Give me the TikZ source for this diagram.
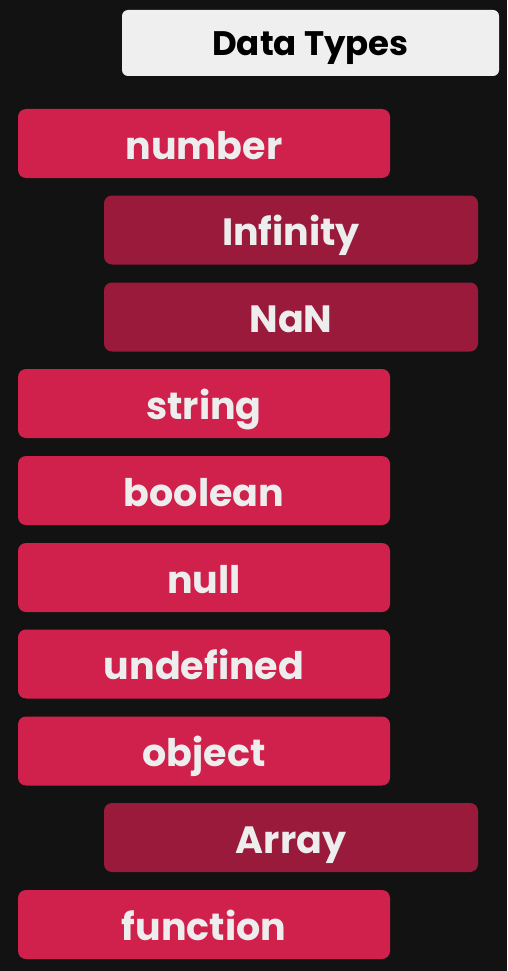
\documentclass[tikz,border=0pt]{standalone}
\usepackage{fontspec}
\setmainfont{Poppins}
\usepackage{tikz}

\definecolor{bgdark}{HTML}{121212}
\definecolor{typered}{HTML}{D0204C}
\definecolor{subred}{HTML}{991A3B}
\definecolor{titlegray}{HTML}{EFEFEF}
\definecolor{labelwhite}{HTML}{EDEDED}

\begin{document}
\begin{tikzpicture}[x=1pt,y=-1pt,
    typebox/.style={fill=typered,rounded corners=8pt,minimum width=372pt,minimum height=69pt,
        inner sep=0pt,text=labelwhite,font=\fontsize{38}{38}\selectfont\bfseries,
        text height=31pt,text depth=0pt},
    subbox/.style={typebox,fill=subred,minimum width=374pt},
    titlebox/.style={fill=titlegray,rounded corners=6pt,minimum width=377pt,minimum height=66pt,
        inner sep=0pt,text=black,font=\fontsize{34}{34}\selectfont\bfseries,
        text height=26pt,text depth=0pt}]
    \fill[bgdark] (0, 0) rectangle (507, 971);
    \node[titlebox] (title) at (310.5, 43) {Data Types};
    \node[typebox] (number) at (204, 143.5) {number};
    \node[subbox] (infinity) at (291, 230) {Infinity};
    \node[subbox] (nan) at (291, 317) {NaN};
    \node[typebox] (string) at (204, 403.5) {string};
    \node[typebox] (boolean) at (204, 490.5) {boolean};
    \node[typebox] (null) at (204, 577.5) {null};
    \node[typebox] (undefined) at (204, 664) {undefined};
    \node[typebox] (object) at (204, 751) {object};
    \node[subbox] (array) at (291, 837.5) {Array};
    \node[typebox] (function) at (204, 924.5) {function};
\end{tikzpicture}
\end{document}
